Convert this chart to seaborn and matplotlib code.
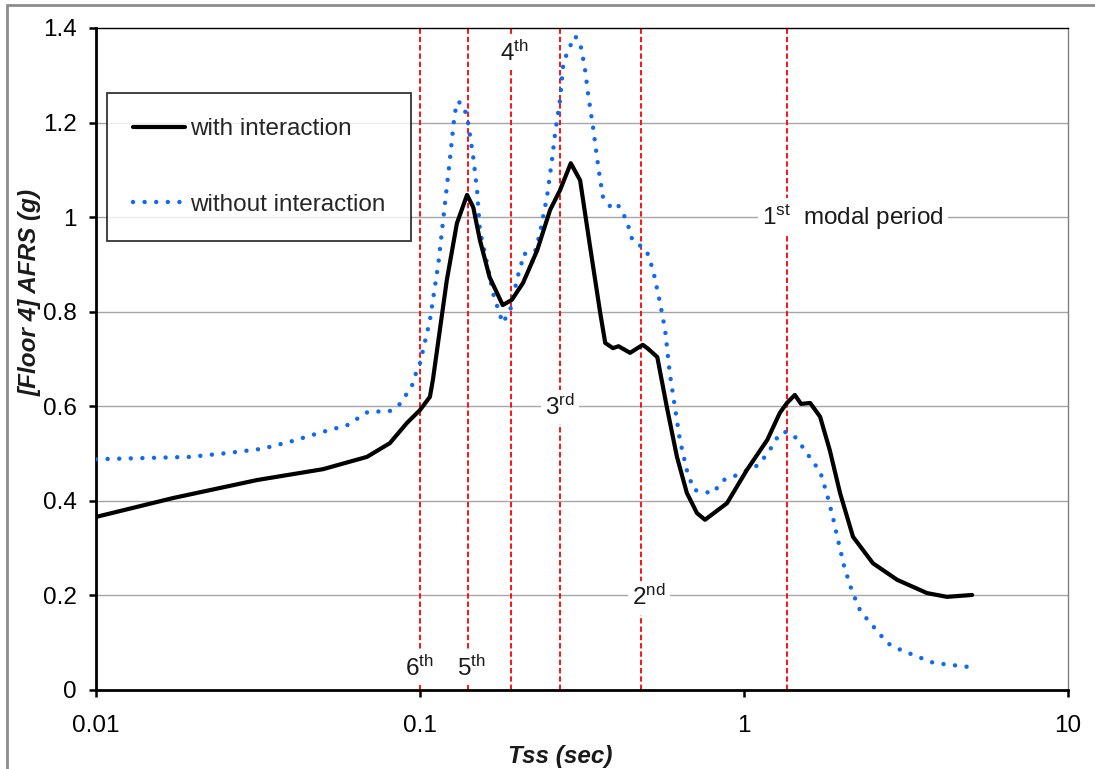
import numpy as np
import pandas as pd
import matplotlib
matplotlib.use("Agg")
import matplotlib.pyplot as plt
from matplotlib.lines import Line2D
import seaborn as sns

# ---------------- data ----------------
with_T = [0.01, 0.0173, 0.0314, 0.0502, 0.0686, 0.0807, 0.0912, 0.1, 0.1073, 0.1096,
          0.121, 0.130, 0.1397, 0.146, 0.153, 0.164, 0.180, 0.192, 0.208, 0.230,
          0.252, 0.2705, 0.292, 0.312, 0.335, 0.360, 0.373, 0.394, 0.41, 0.445,
          0.487, 0.505, 0.540, 0.578, 0.621, 0.666, 0.716, 0.758, 0.886, 1.02,
          1.18, 1.29, 1.357, 1.435, 1.50, 1.60, 1.717, 1.84, 1.98, 2.17,
          2.50, 2.97, 3.67, 4.23, 5.06]
with_A = [0.366, 0.406, 0.444, 0.467, 0.493, 0.522, 0.565, 0.592, 0.620, 0.656,
          0.867, 0.987, 1.047, 1.021, 0.952, 0.873, 0.814, 0.825, 0.861, 0.930,
          1.015, 1.057, 1.114, 1.078, 0.937, 0.797, 0.734, 0.723, 0.727, 0.713,
          0.730, 0.722, 0.704, 0.598, 0.493, 0.417, 0.374, 0.360, 0.395, 0.465,
          0.529, 0.586, 0.607, 0.624, 0.605, 0.607, 0.578, 0.507, 0.416, 0.324,
          0.268, 0.233, 0.205, 0.197, 0.201]

without_T = [0.01, 0.015, 0.0195, 0.0254, 0.0325, 0.0397, 0.0502, 0.0596, 0.069, 0.0807,
             0.0868, 0.0944, 0.0967, 0.1, 0.1073, 0.114, 0.1193, 0.1236, 0.128, 0.131,
             0.1365, 0.1406, 0.146, 0.150, 0.153, 0.161, 0.168, 0.180, 0.190, 0.200,
             0.210, 0.222, 0.2346, 0.2466, 0.2555, 0.2613, 0.2705, 0.277, 0.2866, 0.301,
             0.312, 0.3225, 0.330, 0.343, 0.356, 0.367, 0.386, 0.405, 0.434, 0.452,
             0.50, 0.524, 0.551, 0.571, 0.590, 0.612, 0.634, 0.666, 0.70, 0.758,
             0.80, 0.865, 0.956, 1.11, 1.20, 1.29, 1.357, 1.45, 1.60, 1.72,
             1.80, 1.88, 1.94, 2.04, 2.15, 2.28, 2.41, 2.59, 2.77, 3.04,
             3.45, 3.86, 4.36, 4.9]
without_A = [0.488, 0.491, 0.493, 0.501, 0.510, 0.525, 0.546, 0.560, 0.588, 0.590,
             0.605, 0.643, 0.666, 0.691, 0.782, 0.903, 1.026, 1.121, 1.220, 1.245,
             1.235, 1.201, 1.127, 1.057, 0.973, 0.903, 0.839, 0.776, 0.804, 0.873,
             0.924, 0.905, 0.966, 1.043, 1.121, 1.178, 1.248, 1.326, 1.353, 1.383,
             1.368, 1.317, 1.262, 1.184, 1.100, 1.043, 1.023, 1.030, 0.994, 0.952,
             0.930, 0.888, 0.818, 0.761, 0.670, 0.598, 0.529, 0.465, 0.423, 0.419,
             0.416, 0.444, 0.455, 0.476, 0.507, 0.543, 0.546, 0.533, 0.491, 0.461,
             0.416, 0.366, 0.324, 0.260, 0.211, 0.169, 0.148, 0.123, 0.099, 0.085,
             0.070, 0.057, 0.053, 0.049]

modal_periods = [1.357, 0.481, 0.2705, 0.191, 0.1406, 0.1]
mode_labels = ["1$^{\\rm st}$  modal period", "2$^{\\rm nd}$", "3$^{\\rm rd}$",
               "4$^{\\rm th}$", "5$^{\\rm th}$", "6$^{\\rm th}$"]
label_x = [1.137, 0.451, 0.243, 0.1766, 0.130, 0.0899]
label_y = [1.0, 0.195, 0.598, 1.347, 0.0465, 0.0465]

x_ticks = [0.01, 0.1, 1, 10]
x_ticklabels = ["0.01", "0.1", "1", "10"]
y_ticks = [0, 0.2, 0.4, 0.6, 0.8, 1.0, 1.2, 1.4]
y_ticklabels = ["0", "0.2", "0.4", "0.6", "0.8", "1", "1.2", "1.4"]

# ---------------- style ----------------
sns.set_theme(style="white")
plt.rcParams["font.family"] = ["Liberation Sans", "DejaVu Sans"]
plt.rcParams["mathtext.fontset"] = "custom"
plt.rcParams["mathtext.rm"] = "Liberation Sans"
plt.rcParams["mathtext.it"] = "Liberation Sans:italic"
plt.rcParams["mathtext.bf"] = "Liberation Sans:bold"

FS = 17.5

fig = plt.figure(figsize=(10.95, 7.69), dpi=100)
ax = fig.add_axes([96 / 1095, 79 / 769, 972 / 1095, 662 / 769])

df_with = pd.DataFrame({"T": with_T, "A": with_A})
df_without = pd.DataFrame({"T": without_T, "A": without_A})

blue = "#0f6af2"

# horizontal grid
for yv in y_ticks[1:-1]:
    ax.axhline(yv, color="#a6a6a6", lw=1.0, zorder=0.5)

# modal period lines
for p in modal_periods:
    ax.axvline(p, color="#ff0000", lw=1.3, ls=(0, (3, 1.6)), zorder=1)

# labels with white background
for txt, lx, ly in zip(mode_labels, label_x, label_y):
    ax.text(lx, ly, txt, fontsize=FS, ha="left", va="center", color="#1a1a1a",
            zorder=2, bbox=dict(facecolor="white", edgecolor="none", pad=3))

sns.lineplot(data=df_without, x="T", y="A", ax=ax, color=blue, lw=3.2,
             linestyle=(0, (0.01, 2.6)), dash_capstyle="round", zorder=3,
             sort=False, estimator=None)
sns.lineplot(data=df_with, x="T", y="A", ax=ax, color="black", lw=3.0,
             solid_capstyle="round", solid_joinstyle="round", zorder=4,
             sort=False, estimator=None)

ax.set_xscale("log")
ax.set_xlim(0.01, 10)
ax.set_ylim(0, 1.4)
ax.set_xticks(x_ticks)
ax.set_xticklabels(x_ticklabels)
ax.set_yticks(y_ticks)
ax.set_yticklabels(y_ticklabels)
ax.minorticks_off()
ax.tick_params(axis="both", which="major", labelsize=FS, colors="black",
               direction="out", length=5, width=1.8, left=True, bottom=True)
ax.tick_params(axis="y", pad=9)
ax.tick_params(axis="x", pad=13)

for side in ["left", "bottom"]:
    ax.spines[side].set_color("black")
    ax.spines[side].set_linewidth(2.0)
ax.spines["top"].set_color("black")
ax.spines["top"].set_linewidth(1.0)
ax.spines["right"].set_color("#808080")
ax.spines["right"].set_linewidth(1.0)

ax.set_xlabel("Tss (sec)", fontsize=FS, fontweight="bold", fontstyle="italic", color="#1a1a1a")
ax.set_ylabel("[Floor 4] AFRS (g)", fontsize=FS, fontweight="bold", fontstyle="italic", color="#1a1a1a")
ax.xaxis.set_label_coords(0.478, -0.083)
ax.yaxis.set_label_coords(-0.056, 0.60)

handles = [Line2D([], [], color="black", lw=3.0),
           Line2D([], [], color=blue, lw=3.2, ls=(0, (0.01, 2.6)), dash_capstyle="round")]
leg = ax.legend(handles, ["with interaction", "without interaction"],
                loc="upper left", bbox_to_anchor=(0.0113, 0.902), borderaxespad=0,
                fontsize=FS, frameon=True, fancybox=False, edgecolor="black",
                handlelength=2.15, handletextpad=0.2, labelspacing=2.2, borderpad=1.05)
leg.get_frame().set_linewidth(1.3)
leg.set_zorder(6)

# outer chart border (gray)
fig.add_artist(Line2D([7 / 1095, 7 / 1095], [0, 1 - 5 / 769], color="#8c8c8c", lw=2,
                      transform=fig.transFigure))
fig.add_artist(Line2D([7 / 1095, 1], [1 - 5 / 769, 1 - 5 / 769], color="#8c8c8c", lw=2,
                      transform=fig.transFigure))

fig.savefig("out.png", dpi=100)
